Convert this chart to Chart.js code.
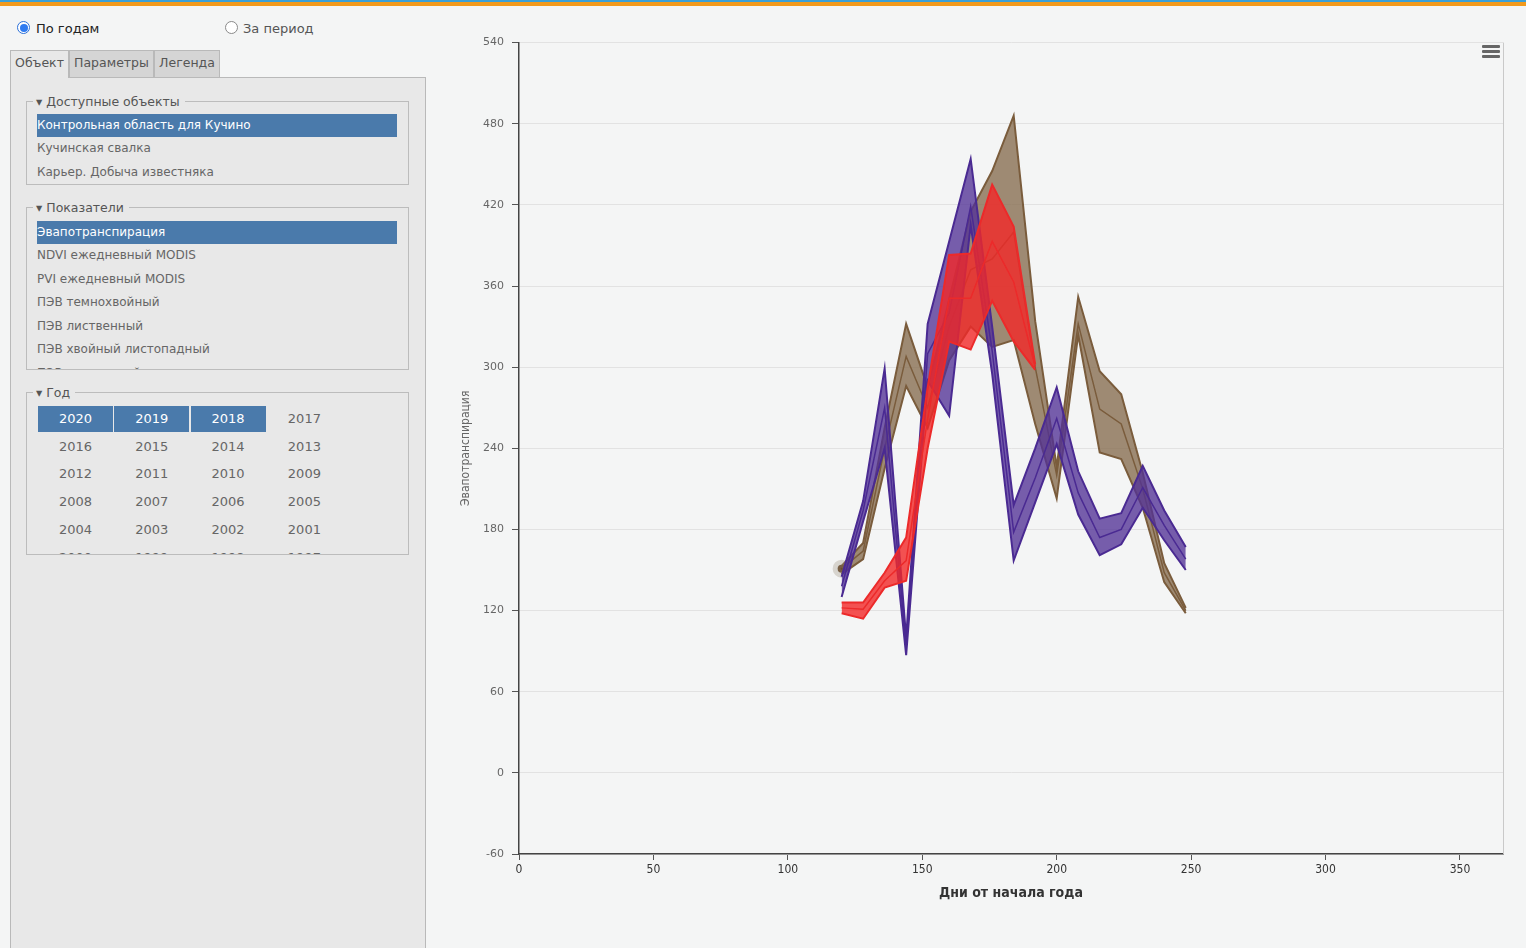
<!DOCTYPE html>
<html lang="ru">
<head>
<meta charset="utf-8">
<title>Эвапотранспирация</title>
<script src="https://cdn.jsdelivr.net/npm/chart.js@4.4.1/dist/chart.umd.min.js"></script>
<style>
  html, body { margin: 0; padding: 0; }
  body {
    width: 1526px; height: 948px; overflow: hidden; position: relative;
    background: #f4f5f5; font-family: "DejaVu Sans", Verdana, sans-serif; font-size: 12px; color: #555;
  }
  .topline-blue { position: absolute; left: 0; top: 0; width: 1526px; height: 2px; background: #3aa0d8; }
  .topline-orange { position: absolute; left: 0; top: 2px; width: 1526px; height: 4px; background: #f29a1c; }
  .abs { position: absolute; white-space: nowrap; }
  .radio { position: absolute; width: 13px; height: 13px; border-radius: 50%; box-sizing: border-box; }
  .radio.on { border: 1px solid #2a6fd8; background: #fff; }
  .radio.on::after { content: ""; position: absolute; left: 1.5px; top: 1.5px; width: 8px; height: 8px; border-radius: 50%; background: #2f7bf0; }
  .radio.off { border: 1px solid #8a8a8a; background: #fff; }
  .tab { position: absolute; top: 50px; height: 27px; box-sizing: border-box; border: 1px solid #b9b9b9; border-bottom: none;
         text-align: center; line-height: 24px; color: #555; font-size: 12.5px; }
  .tab.active { background: #e8e8e8; height: 28px; z-index: 2; }
  .tab.idle { background: #d5d5d5; }
  .panel { position: absolute; left: 10px; top: 77px; width: 416px; height: 880px; box-sizing: border-box;
           background: #e8e8e8; border: 1px solid #b9b9b9; }
  .fs { position: absolute; left: 26px; width: 383px; box-sizing: border-box; border: 1px solid #bcbcbc; overflow: hidden; }
  .legend { position: absolute; left: 33px; padding: 0 5px 0 3px; background: #e8e8e8; color: #555; line-height: 14px; font-size: 12.5px; }
  .item { position: absolute; left: 37px; height: 23px; line-height: 23px; color: #666; }
  .item.sel { background: #4a7aab; color: #fff; width: 360px; }
  .year { position: absolute; width: 75px; height: 26px; line-height: 26px; text-align: center; color: #666; font-size: 13px; }
  .year.sel { background: #4a7aab; color: #fff; }
  #chartBox { position: absolute; left: 450px; top: 28px; width: 1076px; height: 880px; }
  .burger { position: absolute; left: 1482px; width: 18px; height: 3px; background: #666; border-radius: 1px; }
</style>
</head>
<body>
<div class="topline-blue"></div>
<div class="topline-orange"></div>

<!-- mode switch -->
<div class="radio on" style="left:17px; top:21px;"></div>
<div class="abs" style="left:36px; top:21px; color:#222; font-size:13px;">По годам</div>
<div class="radio off" style="left:225px; top:21px;"></div>
<div class="abs" style="left:243px; top:21px; color:#555; font-size:13px;">За период</div>

<!-- tabs -->
<div class="tab active" style="left:10px; width:59px;">Объект</div>
<div class="tab idle" style="left:69px; width:85px;">Параметры</div>
<div class="tab idle" style="left:154px; width:66px;">Легенда</div>

<div class="panel"></div>

<!-- objects -->
<div class="fs" style="top:101px; height:84px;"></div>
<div class="legend abs" style="top:95px;">▾ Доступные объекты</div>
<div class="item sel" style="top:114px;">Контрольная область для Кучино</div>
<div class="item" style="top:137px;">Кучинская свалка</div>
<div class="item" style="top:161px;">Карьер. Добыча известняка</div>

<!-- indicators -->
<div class="fs" style="top:207px; height:163px;">
  <div class="item sel" style="left:10px; top:13px;">Эвапотранспирация</div>
  <div class="item" style="left:10px; top:36px;">NDVI ежедневный MODIS</div>
  <div class="item" style="left:10px; top:60px;">PVI ежедневный MODIS</div>
  <div class="item" style="left:10px; top:83px;">ПЭВ темнохвойный</div>
  <div class="item" style="left:10px; top:107px;">ПЭВ лиственный</div>
  <div class="item" style="left:10px; top:130px;">ПЭВ хвойный листопадный</div>
  <div class="item" style="left:10px; top:154px;">ПЭВ смешанный</div>
</div>
<div class="legend abs" style="top:201px;">▾ Показатели</div>

<!-- years -->
<div class="fs" style="top:392px; height:163px;" id="yearBox"></div>
<div class="legend abs" style="top:386px;">▾ Год</div>

<!-- chart -->
<div id="chartBox"><canvas id="et"></canvas></div>
<div class="burger" style="top:45px;"></div>
<div class="burger" style="top:50px;"></div>
<div class="burger" style="top:55px;"></div>

<script>
// ---- year selector ----
const yearList = [2020, 2019, 2018, 2017, 2016, 2015, 2014, 2013, 2012, 2011, 2010, 2009,
                  2008, 2007, 2006, 2005, 2004, 2003, 2002, 2001, 2000, 1999, 1998, 1997];
const selectedYears = [2020, 2019, 2018];
(function buildYears() {
  const box = document.getElementById('yearBox');
  yearList.forEach((y, i) => {
    const d = document.createElement('div');
    d.className = 'year' + (selectedYears.includes(y) ? ' sel' : '');
    d.style.left = (11 + (i % 4) * 76.3) + 'px';
    d.style.top = (13 + Math.floor(i / 4) * 27.7) + 'px';
    d.textContent = y;
    box.appendChild(d);
  });
})();

// ---- evapotranspiration, 8-day composites (day of year) ----
const days = [120, 128, 136, 144, 152, 160, 168, 176, 184, 192, 200, 208, 216, 224, 232, 240, 248];

// 2018
const et2018High = [153, 170, 255, 332, 285, 350, 415, 445, 486, 334, 226, 352, 297, 280, 222, 155, 122];
const et2018Mean = [151, 164, 240, 308, 270, 330, 372, 380, 400, 300, 220, 332, 269, 258, 210, 148, 120];
const et2018Low  = [147, 158, 225, 286, 255, 305, 330, 315, 320, 258, 203, 324, 237, 232, 196, 141, 118];

// 2019
const et2019High = [145, 201, 299, 100, 332, 393, 454, 330, 198, 240, 285, 223, 188, 192, 227, 194, 167];
const et2019Mean = [138, 194, 270, 93, 310, 340, 419, 312, 178, 218, 262, 207, 174, 180, 211, 183, 158];
const et2019Low  = [130, 186, 240, 87, 290, 264, 405, 295, 157, 200, 243, 191, 161, 169, 196, 172, 150];

// 2020 (season in progress)
const et2020High = [126, 126, 148, 174, 285, 383, 384, 435, 404, 302];
const et2020Mean = [122, 121, 142, 157, 262, 351, 351, 393, 363, 300];
const et2020Low  = [118, 114, 137, 142, 240, 319, 313, 349, 319, 298];

// axis ticks
const yTickMin = -60, yTickMax = 540, yTickStep = 60;
const xTickMin = 0, xTickMax = 366, xTickStep = 50;

const pts = (vals) => vals.map((v, i) => ({ x: days[i], y: v }));

const palette = {
  2018: { line: '#7a5c3c', fill: 'rgba(136,111,82,0.8)' },
  2019: { line: '#4a2a92', fill: 'rgba(82,50,150,0.78)' },
  2020: { line: '#ec2a2a', fill: 'rgba(242,40,40,0.8)' }
};

function band(year, high, mean, low, baseIndex, layer) {
  const c = palette[year];
  return [
    { label: year + ' max', data: pts(high), borderColor: c.line, borderWidth: 2,
      backgroundColor: c.fill, fill: { target: baseIndex + 2 }, pointRadius: 0, order: layer * 10 + 3 },
    { label: String(year), data: pts(mean), borderColor: c.line, borderWidth: 1.5,
      fill: false, pointRadius: 0, order: layer * 10 + 2 },
    { label: year + ' min', data: pts(low), borderColor: c.line, borderWidth: 2,
      fill: false, pointRadius: 0, order: layer * 10 + 1 }
  ];
}

const datasets = [
  ...band(2018, et2018High, et2018Mean, et2018Low, 0, 3),
  ...band(2019, et2019High, et2019Mean, et2019Low, 3, 2),
  ...band(2020, et2020High, et2020Mean, et2020Low, 6, 1)
];
// highlighted first point of 2018 mean
datasets[1].pointRadius = (ctx) => ctx.dataIndex === 0 ? 4 : 0;
datasets[1].pointBackgroundColor = '#6a4c2e';
datasets[1].pointBorderColor = 'rgba(150,135,115,0.3)';
datasets[1].pointBorderWidth = 10;

// right frame line of the plot
const frameRight = {
  id: 'frameRight',
  afterDraw(chart) {
    const { ctx, chartArea } = chart;
    ctx.save();
    ctx.strokeStyle = '#c9c9c9';
    ctx.lineWidth = 1;
    ctx.beginPath();
    ctx.moveTo(chartArea.right + 0.5, chartArea.top);
    ctx.lineTo(chartArea.right + 0.5, chartArea.bottom);
    ctx.stroke();
    ctx.restore();
  }
};

new Chart(document.getElementById('et'), {
  type: 'line',
  data: { datasets },
  plugins: [frameRight],
  options: {
    responsive: true,
    maintainAspectRatio: false,
    animation: false,
    events: [],
    layout: { padding: { top: 12, right: 23, left: 0, bottom: 0 } },
    elements: { line: { tension: 0 } },
    plugins: { legend: { display: false }, tooltip: { enabled: false } },
    scales: {
      x: {
        type: 'linear', min: xTickMin, max: xTickMax,
        afterFit: (s) => { s.height = 54; },
        afterBuildTicks: (s) => { s.ticks = s.ticks.filter(t => t.value % xTickStep === 0); },
        ticks: { stepSize: xTickStep, color: '#333', padding: 3, maxRotation: 0,
                 font: { family: '"DejaVu Sans Condensed", "Liberation Sans Narrow", sans-serif', size: 12 } },
        grid: { drawOnChartArea: false, drawTicks: true, tickLength: 6, tickColor: '#555' },
        border: { color: '#444', width: 1.5 },
        title: { display: true, text: 'Дни от начала года', color: '#333', padding: { top: 4, bottom: 6 },
                 font: { family: '"DejaVu Sans Condensed", "Liberation Sans Narrow", sans-serif', size: 14, weight: 'bold' } }
      },
      y: {
        type: 'linear', min: yTickMin, max: yTickMax,
        afterFit: (s) => { s.width = 69; },
        ticks: { stepSize: yTickStep, color: '#666', padding: 8,
                 font: { family: '"DejaVu Sans", Verdana, sans-serif', size: 11 } },
        grid: { color: '#e2e2e2', tickLength: 7, tickColor: '#555', lineWidth: 1 },
        border: { color: '#444', width: 1.5 },
        title: { display: true, text: 'Эвапотранспирация', color: '#666', padding: { top: 9, bottom: 0 },
                 font: { family: '"DejaVu Sans Condensed", "Liberation Sans Narrow", sans-serif', size: 12 } }
      }
    }
  }
});
</script>
</body>
</html>
